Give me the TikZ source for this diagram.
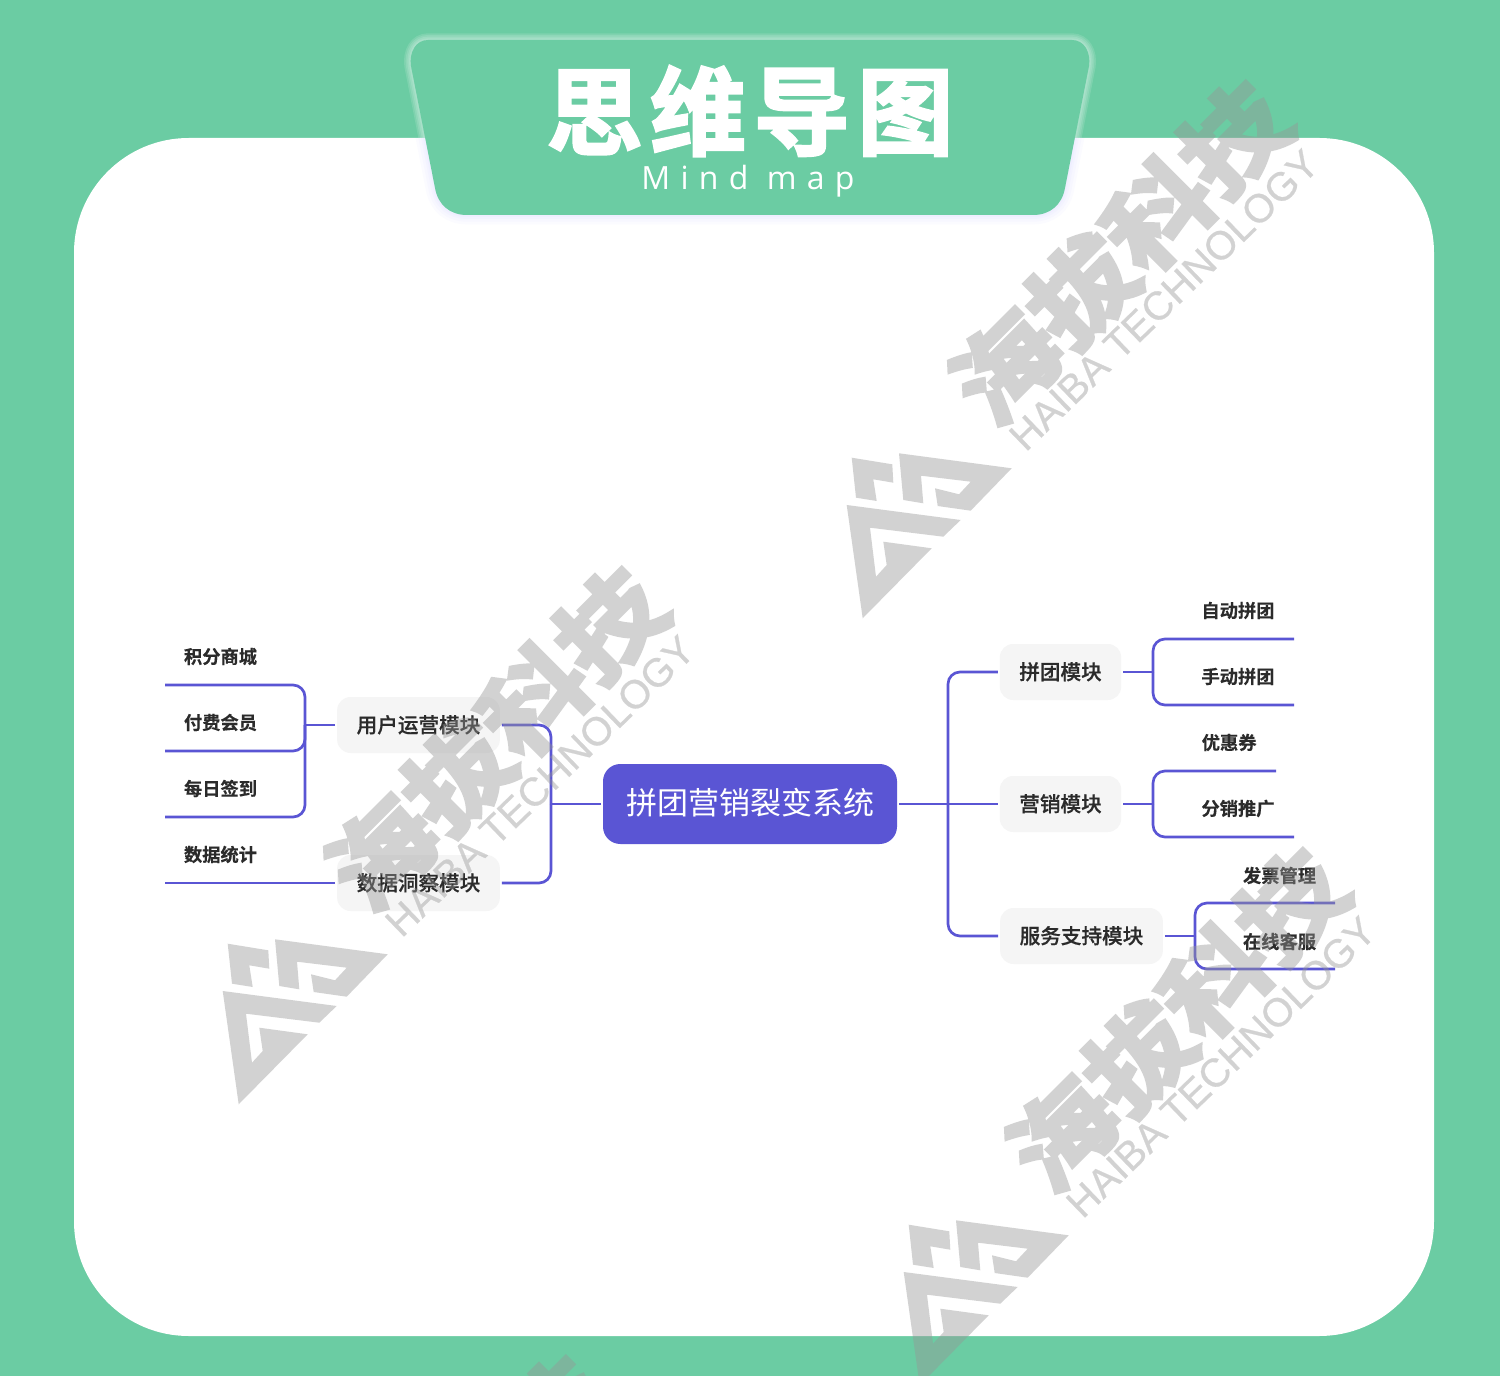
\documentclass[tikz,border=0pt]{standalone}
\usepackage{fontspec}
\newfontfamily\cjk{Noto Sans CJK SC}
\newfontfamily\cjkheavy[FakeBold=4.2]{Noto Sans CJK SC Bold}
\newfontfamily\cjktitle[LetterSpace=8,FakeBold=2.5]{Noto Sans CJK SC Bold}
\newfontfamily\cjkbold[FakeBold=0.3]{Noto Sans CJK SC Bold}
\newfontfamily\cjkmed[FakeBold=0.6]{Noto Sans CJK SC Medium}
\newfontfamily\mindfont[LetterSpace=32]{Open Sans}
\newfontfamily\wmlatin[FakeBold=0.6]{Liberation Sans}
\definecolor{bggreen}{HTML}{6BCCA3}
\definecolor{linkblue}{HTML}{5A55D4}
\definecolor{boxgray}{HTML}{F5F5F5}
\definecolor{inkdark}{HTML}{2B2B2B}
\definecolor{wmgray}{RGB}{150,150,150}
\newcommand{\upt}[1]{\raisebox{1.7pt}{#1}}
\tikzset{
  conn/.style={draw=linkblue,line width=2pt,rounded corners=9pt},
  leaftext/.style={font=\cjkbold\fontsize{13.7}{16}\selectfont,text=inkdark,inner sep=0pt},
  modbox/.style={fill=boxgray,rounded corners=10pt,minimum height=42pt,inner sep=0pt,outer sep=1.5pt,
     font=\cjkmed\fontsize{15.45}{18}\selectfont,text=inkdark},
  rootbox/.style={fill=linkblue,rounded corners=13pt,minimum width=220.5pt,minimum height=60pt,inner sep=0pt,outer sep=1.5pt,
     font=\cjk\fontsize{23.25}{28}\selectfont,text=white},
  wmark/.style={fill=wmgray,draw=none},
  wmtext/.style={text=wmgray,inner sep=0pt}
}
\newcommand{\wmcopy}[3]{%
  \begin{scope}[shift={(#1,#2)},transparency group,opacity=.42]
    \fill[wmark] (851.7,457.7)--(892.3,464.3)--(893.3,482.7)--(873.3,479.3)--(876.7,501)--(856,497.7)--cycle;
    \fill[wmark] (899,453.3)--(1011.7,468.3)--(970.7,510.7)--(937.7,506)--(935,488.3)--(959,494.3)--(970.7,481.7)--(921,475.7)--(923.3,503.3)--(903.3,500)--cycle;
    \fill[wmark] (846.7,505)--(960.7,520)--(943.3,536.7)--(870,527.7)--(876,576.7)--(886.7,565)--(883.3,541.7)--(931.7,548.3)--(862.7,618.3)--cycle;
    \node[wmtext,rotate=45,xscale=1.12,font=\cjkheavy\fontsize{72}{76}\selectfont] (wmcn#3) at (1120,252) {海拔科技};
    \node[wmtext,rotate=44,font=\wmlatin\fontsize{30}{33}\selectfont] (wmen#3) at (1164,300) {HAIBA TECHNOLOGY};
  \end{scope}}
\begin{document}
\begin{tikzpicture}[x=0.75pt,y=-0.75pt]
\useasboundingbox (0,0) rectangle (1500,1376);
\clip (0,0) rectangle (1500,1376);
\fill[bggreen] (0,0) rectangle (1500,1376);
\fill[white,rounded corners=86pt] (74,138) rectangle (1434,1336);

% banner
\def\bannerpath{(428,40) -- (1072,40) .. controls (1084,40) and (1091,52) .. (1089,66)
  -- (1065,188) .. controls (1062,205) and (1050,215) .. (1033,215)
  -- (467,215) .. controls (450,215) and (438,205) .. (435,188)
  -- (411,66) .. controls (409,52) and (416,40) .. (428,40) -- cycle}
\begin{scope}
  \clip[rounded corners=86pt] (74,138) rectangle (1434,1336);
  \foreach \w in {14,10,6,3}{\draw[draw=blue!30!white,opacity=.05,line width=\w pt] \bannerpath;}
\end{scope}
\begin{scope}
  \clip (0,0) rectangle (1500,138);
  \foreach \w in {10,7.5,5,2.5}{\draw[white,opacity=.13,line width=\w pt] \bannerpath;}
\end{scope}
\fill[bggreen] \bannerpath;
\node[inner sep=0pt,text=white,font=\cjktitle\fontsize{72}{76}\selectfont] (titlecn) at (750,111) {思维导图};
\node[anchor=base,inner sep=0pt,text=white,font=\mindfont\fontsize{24}{28}\selectfont] (titleen) at (748,190) {Mind map};

% nodes
\node[rootbox] (root) at (750,804) {\raisebox{3.6pt}{拼团营销裂变系统}};
\node[modbox,minimum width=122pt] (user) at (418.5,725) {\upt{用户运营模块}};
\node[modbox,minimum width=122pt] (data) at (418.5,883) {\upt{数据洞察模块}};
\node[modbox,minimum width=91pt] (pin) at (1060.5,672) {\upt{拼团模块}};
\node[modbox,minimum width=91pt] (yx) at (1060.5,804) {\upt{营销模块}};
\node[modbox,minimum width=122pt] (fw) at (1081.5,936) {\upt{服务支持模块}};

\node[leaftext] (l1) at (220.5,656.5) {积分商城};
\node[leaftext] (l2) at (220.5,722.5) {付费会员};
\node[leaftext] (l3) at (220.5,788.5) {每日签到};
\node[leaftext] (l4) at (220.5,854.5) {数据统计};
\node[leaftext] (r1) at (1238,610.5) {自动拼团};
\node[leaftext] (r2) at (1238,676.5) {手动拼团};
\node[leaftext,anchor=west] (r3) at (1201.5,742.5) {优惠券};
\node[leaftext] (r4) at (1238,808.5) {分销推广};
\node[leaftext] (r5) at (1279.5,875.5) {发票管理};
\node[leaftext] (r6) at (1279.5,941.5) {在线客服};

% junctions and free ends
\coordinate (jl) at (305,725);
\coordinate (jc) at (551,804);
\coordinate (jr) at (948,804);
\coordinate (jp) at (1153,672);
\coordinate (jy) at (1153,804);
\coordinate (jf) at (1195,936);
\coordinate (el1) at (165,685);
\coordinate (el2) at (165,751);
\coordinate (el3) at (165,817);
\coordinate (el4) at (165,883);
\coordinate (er1) at (1294,639);
\coordinate (er2) at (1294,705);
\coordinate (er3) at (1276,771);
\coordinate (er4) at (1294,837);
\coordinate (er5) at (1335,903);
\coordinate (er6) at (1335,969);

% connectors
\draw[conn] (root.west) -- (jc);
\draw[conn] (jc) |- (user.east);
\draw[conn] (jc) |- (data.east);
\draw[conn] (root.east) -- (yx.west);
\draw[conn] (jr) |- (pin.west);
\draw[conn] (jr) |- (fw.west);
\draw[conn] (user.west) -- (jl);
\draw[conn] (jl) |- (el1);
\draw[conn] (jl) |- (el2);
\draw[conn] (jl) |- (el3);
\draw[conn] (data.west) -- (el4);
\draw[conn] (pin.east) -- (jp);
\draw[conn] (jp) |- (er1);
\draw[conn] (jp) |- (er2);
\draw[conn] (yx.east) -- (jy);
\draw[conn] (jy) |- (er3);
\draw[conn] (jy) |- (er4);
\draw[conn] (fw.east) -- (jf);
\draw[conn] (jf) |- (er5);
\draw[conn] (jf) |- (er6);

% watermarks
\wmcopy{0}{0}{a}
\wmcopy{-624}{486}{b}
\wmcopy{57}{767}{c}
\wmcopy{-680}{1275}{d}
\end{tikzpicture}
\end{document}
